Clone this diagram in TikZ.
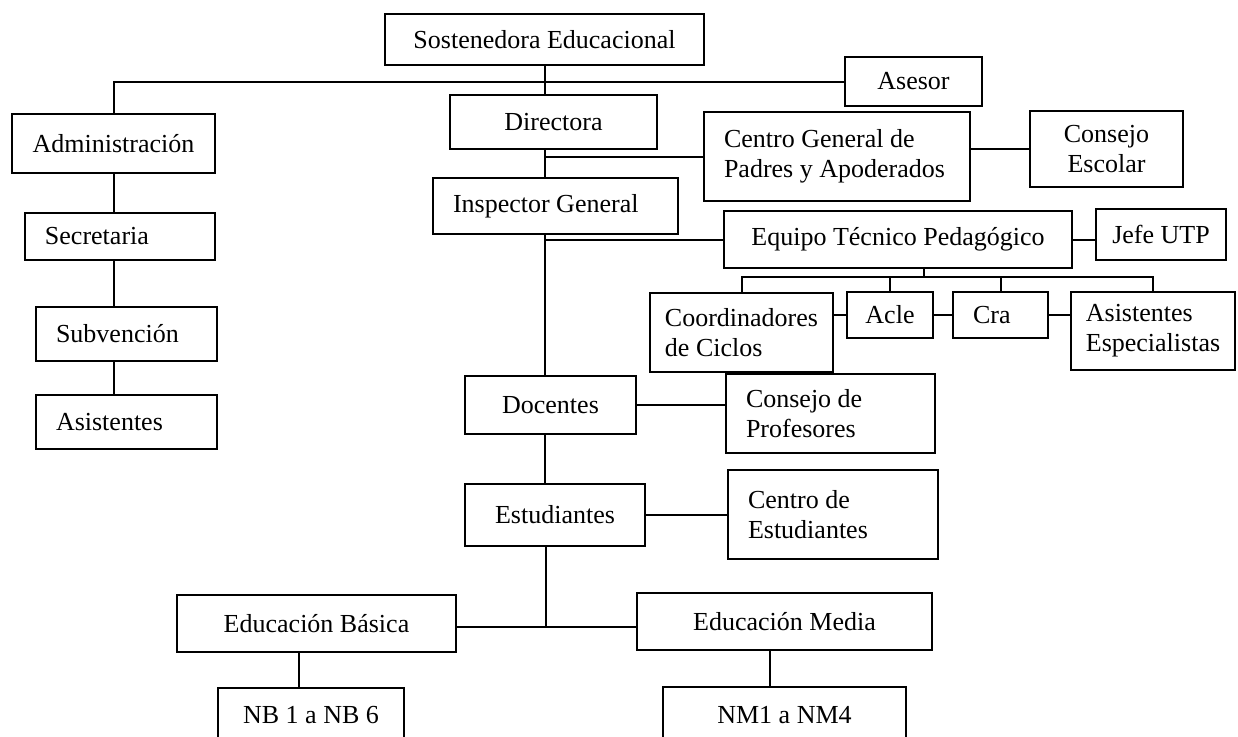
\documentclass[tikz,border=0pt]{standalone}
\usepackage{fontspec}
\setmainfont{Liberation Serif}
\usepackage{tikz}

\begin{document}
\begin{tikzpicture}[x=0.5pt,y=-0.5pt,line width=1pt,
  font=\fontsize{13}{15}\selectfont,
  box/.style 2 args={draw,line width=1.1pt,inner sep=0pt,minimum width=#1,minimum height=#2},
  lbox/.style={align=flush left,inner xsep=10pt,text width=#1}]
  \useasboundingbox (0,0) rectangle (1238,736);
  % boxes
  \node[box={159.5pt}{25.5pt}] (sost) at (544.5,39.5) {Sostenedora Educacional};
  \node[box={68.5pt}{24.5pt}] (asesor) at (913.5,81.5) {Asesor};
  \node[box={101.5pt}{29.5pt}] (admin) at (113.5,143.5) {Administración};
  \node[box={103.5pt}{27pt}] (dir) at (553.5,122) {Directora};
  \node[box={133pt}{44.5pt},lbox=113pt] (cgpa) at (837,156.5) {Centro General de\\Padres y Apoderados};
  \node[box={76.5pt}{38pt},align=center] (cesc) at (1106.5,149) {Consejo\\Escolar};
  \node[box={122.5pt}{28pt},lbox=102.5pt] (insp) at (555.5,206) {Inspector General};
  \node[box={95pt}{23.5pt},lbox=75pt] (secr) at (120,236.5) {Secretaria};
  \node[box={174pt}{28.5pt}] (etp) at (898,239.5) {Equipo Técnico Pedagógico};
  \node[box={65pt}{25.5pt}] (jefe) at (1161,234.5) {Jefe UTP};
  \node[box={90.5pt}{27pt},lbox=70.5pt] (subv) at (126.5,334) {Subvención};
  \node[box={91.5pt}{39.5pt},align=left] (coord) at (741.5,332.5) {Coordinadores\\de Ciclos};
  \node[box={43pt}{23pt}] (acle) at (890,315) {Acle};
  \node[box={47.5pt}{23pt},lbox=27.5pt] (cra) at (1000.5,315) {Cra};
  \node[box={82pt}{39pt},align=left] (aesp) at (1153,331) {Asistentes\\Especialistas};
  \node[box={90.5pt}{27pt},lbox=70.5pt] (asis) at (126.5,422) {Asistentes};
  \node[box={85.5pt}{29pt}] (doc) at (550.5,405) {Docentes};
  \node[box={104.5pt}{39.5pt},lbox=84.5pt] (cprof) at (830.5,413.5) {Consejo de\\Profesores};
  \node[box={90pt}{31pt}] (est) at (555,515) {Estudiantes};
  \node[box={105pt}{44.5pt},lbox=85pt] (cest) at (833,514.5) {Centro de\\Estudiantes};
  \node[box={139.5pt}{28.5pt}] (ebas) at (316.5,623.5) {Educación Básica};
  \node[box={147.5pt}{28.5pt}] (emed) at (784.5,621.5) {Educación Media};
  \node[box={93pt}{27pt}] (nb) at (311,715) {NB 1 a NB 6};
  \node[box={121.5pt}{28pt}] (nm) at (784.5,715) {NM1 a NM4};
  % branch points
  \coordinate (bus) at (924,277);
  \coordinate (fork) at (546,627);
  \coordinate (nbtop) at ([xshift=-6pt]nb.north);
  \coordinate (nmtop) at ([xshift=-7.5pt]nm.north);
  % main line
  \draw (sost.south) -- (sost.south |- dir.north);
  \draw (asesor.west) -| (admin.north);
  \draw (dir.south -| sost.south) -- (insp.north -| sost.south);
  \draw (cgpa.west) -- (cgpa.west -| sost.south);
  \draw (cgpa.east |- cesc.west) -- (cesc.west);
  \draw (insp.south -| sost.south) -- (doc.north -| sost.south);
  \draw (etp.west) -- (etp.west -| sost.south);
  \draw (etp.east) -- (etp.east -| jefe.west);
  % technical team
  \draw (etp.south -| bus) -- (bus);
  \draw (coord.north) |- (bus) -| (aesp.north);
  \draw (acle.north) -- (acle.north |- bus);
  \draw (cra.north) -- (cra.north |- bus);
  \draw (coord.east |- acle.west) -- (acle.west);
  \draw (acle.east) -- (cra.west);
  \draw (cra.east) -- (cra.east -| aesp.west);
  % administration
  \draw (admin.south) -- (admin.south |- secr.north);
  \draw (admin.south |- secr.south) -- (admin.south |- subv.north);
  \draw (admin.south |- subv.south) -- (admin.south |- asis.north);
  % teachers and students
  \draw (doc.east) -- (doc.east -| cprof.west);
  \draw (doc.south -| sost.south) -- (est.north -| sost.south);
  \draw (est.east) -- (est.east -| cest.west);
  \draw (est.south -| fork) -- (fork);
  \draw (ebas.east |- fork) -- (emed.west |- fork);
  \draw (nbtop) -- (nbtop |- ebas.south);
  \draw (nmtop) -- (nmtop |- emed.south);
\end{tikzpicture}
\end{document}
